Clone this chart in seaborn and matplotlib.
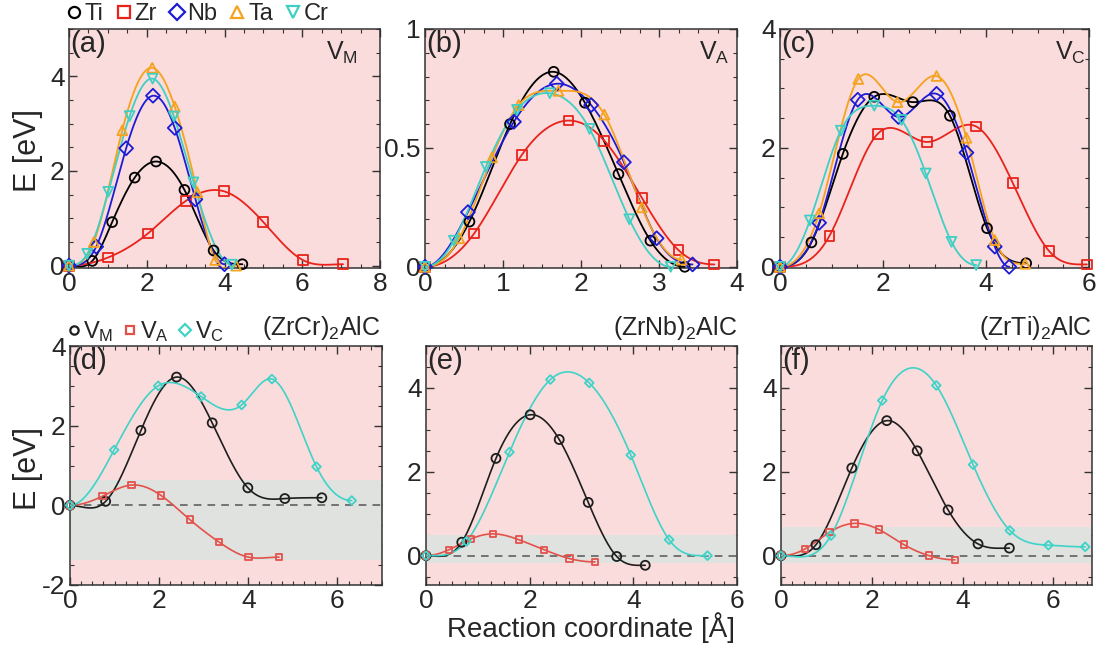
import numpy as np
import seaborn as sns
import matplotlib
matplotlib.use("Agg")
from matplotlib import pyplot as plt
from matplotlib.lines import Line2D
from matplotlib.ticker import MultipleLocator

# ---- top row: (x, E) points of each metal, one dict per vacancy type ----
vm_pts = {
    "Ti": ([0, 0.6, 1.11, 1.69, 2.24, 2.97, 3.72, 4.46], [0, 0.1, 0.92, 1.86, 2.2, 1.6, 0.32, 0.03]),
    "Zr": ([0, 1.0, 2.03, 3.01, 3.99, 5.0, 6.01, 7.05], [0, 0.17, 0.68, 1.37, 1.57, 0.92, 0.12, 0.03]),
    "Nb": ([0, 0.7, 1.47, 2.16, 2.72, 3.25, 4.0], [0, 0.4, 2.48, 3.59, 2.91, 1.4, 0.03]),
    "Ta": ([0, 0.64, 1.37, 2.14, 2.72, 3.3, 3.76, 4.3], [0, 0.5, 2.86, 4.18, 3.36, 1.55, 0.12, 0.0]),
    "Cr": ([0, 0.47, 1.01, 1.56, 2.15, 2.7, 3.2, 4.19], [0, 0.25, 1.56, 3.16, 3.95, 3.15, 1.76, 0.02]),
}
va_pts = {
    "Ti": ([0, 0.57, 1.09, 1.65, 2.05, 2.48, 2.89, 3.33], [0, 0.19, 0.6, 0.82, 0.69, 0.39, 0.11, 0.0]),
    "Zr": ([0, 0.63, 1.24, 1.84, 2.3, 2.78, 3.25, 3.71], [0, 0.14, 0.47, 0.615, 0.53, 0.29, 0.07, 0.01]),
    "Nb": ([0, 0.55, 1.14, 1.69, 2.13, 2.55, 2.97, 3.43], [0, 0.23, 0.61, 0.77, 0.68, 0.44, 0.12, 0.01]),
    "Ta": ([0, 0.44, 0.86, 1.2, 1.71, 2.3, 2.78, 3.29], [0, 0.12, 0.46, 0.68, 0.74, 0.64, 0.25, 0.03]),
    "Cr": ([0, 0.37, 0.78, 1.18, 1.6, 2.11, 2.62, 3.15], [0, 0.11, 0.42, 0.66, 0.73, 0.58, 0.2, 0.0]),
}
vc_pts = {
    "Ti": ([0, 0.61, 1.22, 1.83, 2.58, 3.3, 4.02, 4.78], [0, 0.41, 1.9, 2.86, 2.77, 2.54, 0.65, 0.06]),
    "Zr": ([0, 0.96, 1.9, 2.85, 3.81, 4.52, 5.23, 5.96], [0, 0.52, 2.24, 2.1, 2.36, 1.41, 0.26, 0.04]),
    "Nb": ([0, 0.76, 1.51, 2.3, 3.04, 3.62, 4.17, 4.45], [0, 0.74, 2.81, 2.52, 2.91, 1.92, 0.34, 0.0]),
    "Ta": ([0, 0.76, 1.52, 2.28, 3.04, 3.62, 4.17, 4.76], [0, 0.9, 3.16, 2.77, 3.21, 2.17, 0.45, 0.05]),
    "Cr": ([0, 0.58, 1.18, 1.83, 2.36, 2.83, 3.33, 3.81], [0, 0.78, 2.29, 2.71, 2.47, 1.57, 0.42, 0.03]),
}

# ---- bottom row: the three vacancies in each solid solution ----
zrcr_pts = {
    "VM": ([0, 0.8, 1.59, 2.39, 3.19, 3.99, 4.82, 5.65], [0, 0.1, 1.88, 3.22, 2.07, 0.44, 0.17, 0.19]),
    "VA": ([0, 0.73, 1.38, 2.04, 2.69, 3.34, 4.0, 4.69], [0, 0.23, 0.51, 0.25, -0.36, -0.92, -1.3, -1.3]),
    "VC": ([0, 0.99, 1.98, 2.94, 3.85, 4.53, 5.53, 6.32], [0, 1.39, 3.0, 2.73, 2.52, 3.17, 0.97, 0.12]),
}
zrnb_pts = {
    "VM": ([0, 0.69, 1.35, 2.01, 2.57, 3.13, 3.68, 4.23], [0, 0.32, 2.32, 3.36, 2.77, 1.27, -0.02, -0.23]),
    "VA": ([0, 0.44, 0.87, 1.29, 1.79, 2.28, 2.77, 3.26], [0, 0.14, 0.4, 0.52, 0.38, 0.14, -0.07, -0.15]),
    "VC": ([0, 0.78, 1.61, 2.4, 3.15, 3.95, 4.69, 5.43], [0, 0.34, 2.47, 4.2, 4.12, 2.4, 0.38, 0.0]),
}
zrti_pts = {
    "VM": ([0, 0.77, 1.56, 2.33, 3.0, 3.68, 4.34, 5.03], [0, 0.26, 2.09, 3.22, 2.5, 1.09, 0.28, 0.18]),
    "VA": ([0, 0.53, 1.07, 1.62, 2.16, 2.71, 3.26, 3.83], [0, 0.16, 0.56, 0.77, 0.62, 0.26, 0.0, -0.1]),
    "VC": ([0, 1.1, 2.23, 3.42, 4.23, 5.04, 5.89, 6.7], [0, 0.48, 3.7, 4.06, 2.17, 0.6, 0.25, 0.21]),
}
# shaded energy windows in (d)-(f)
zrcr_band = (-1.37, 0.63)
zrnb_band = (-0.17, 0.5)
zrti_band = (-0.17, 0.69)

metal_style = {
    "Ti": ("black", "o"), "Zr": ("#e8231b", "s"), "Nb": ("#1c1cd6", "D"),
    "Ta": ("#f5a21e", "^"), "Cr": ("#3fcfc4", "v"),
}
vac_style = {
    "VM": ("#1e1e1e", "o", 42), "VA": ("#e4514b", "s", 22), "VC": ("#3fd3c8", "D", 20),
}
vac_label = {"VM": r"$\mathregular{V_M}$", "VA": r"$\mathregular{V_A}$", "VC": r"$\mathregular{V_C}$"}

BG = "#fadcdc"
BAND = "#dfe2de"


def clamped_spline(x, y, num=300):
    """Cubic spline with zero slope at both end points (the path minima);
    only used to draw the smooth line through the markers."""
    x = np.asarray(x, float)
    y = np.asarray(y, float)
    n = len(x)
    h = np.diff(x)
    d = np.diff(y) / h
    A = np.zeros((n, n))
    r = np.zeros(n)
    A[0, 0], A[0, 1] = 2 * h[0], h[0]
    r[0] = 6 * d[0]
    A[-1, -2], A[-1, -1] = h[-1], 2 * h[-1]
    r[-1] = -6 * d[-1]
    for i in range(1, n - 1):
        A[i, i - 1] = h[i - 1]
        A[i, i] = 2 * (h[i - 1] + h[i])
        A[i, i + 1] = h[i]
        r[i] = 6 * (d[i] - d[i - 1])
    M = np.linalg.solve(A, r)
    xs = np.linspace(x[0], x[-1], num)
    k = np.clip(np.searchsorted(x, xs) - 1, 0, n - 2)
    t0 = x[k + 1] - xs
    t1 = xs - x[k]
    hk = h[k]
    ys = (M[k] * t0 ** 3 + M[k + 1] * t1 ** 3) / (6 * hk) \
        + (y[k] / hk - M[k] * hk / 6) * t0 + (y[k + 1] / hk - M[k + 1] * hk / 6) * t1
    return xs, ys


def draw_series(ax, x, y, color, marker, size, lw=1.3):
    xs, ys = clamped_spline(x, y)
    sns.lineplot(x=xs, y=ys, ax=ax, color=color, lw=lw, sort=False, estimator=None,
                 legend=False, zorder=3)
    sns.scatterplot(x=x, y=y, ax=ax, marker=marker, s=size, facecolor="none",
                    edgecolor=color, linewidth=1.3, legend=False, zorder=4, clip_on=False)


def style_axes(ax, xlim, ylim, xmaj, xmin, ymaj, ymin):
    ax.set_facecolor(BG)
    ax.set_xlim(*xlim)
    ax.set_ylim(*ylim)
    ax.xaxis.set_major_locator(MultipleLocator(xmaj))
    ax.xaxis.set_minor_locator(MultipleLocator(xmin))
    ax.yaxis.set_major_locator(MultipleLocator(ymaj))
    ax.yaxis.set_minor_locator(MultipleLocator(ymin))
    ax.tick_params(which="both", direction="in", top=True, right=True, labelsize=19,
                   color="#333333", pad=3)
    ax.tick_params(which="major", length=6, width=1)
    ax.tick_params(which="minor", length=3, width=0.8)
    ax.set_xlabel("")
    ax.set_ylabel("")
    for sp in ax.spines.values():
        sp.set_color("#333333")
        sp.set_linewidth(1.1)


sns.set_style("ticks")
plt.rcParams["font.family"] = ["Liberation Sans", "DejaVu Sans"]
plt.rcParams["mathtext.fontset"] = "custom"
plt.rcParams["mathtext.rm"] = "Liberation Sans"
plt.rcParams["axes.unicode_minus"] = False

W, H = 1099, 651
fig = plt.figure(figsize=(W / 100, H / 100), dpi=100)


def add_ax(left, right, top, bottom):
    return fig.add_axes([left / W, 1 - bottom / H, (right - left) / W, (bottom - top) / H])


ax_a = add_ax(69, 380, 29, 268)
ax_b = add_ax(425, 737, 29, 268)
ax_c = add_ax(780, 1089, 29, 268)
ax_d = add_ax(70, 382, 346, 585)
ax_e = add_ax(426, 737, 346, 585)
ax_f = add_ax(781, 1092, 346, 585)

# top row
for ax, pts in [(ax_a, vm_pts), (ax_b, va_pts), (ax_c, vc_pts)]:
    for name, (x, y) in pts.items():
        c, m = metal_style[name]
        draw_series(ax, x, y, c, m, 50)

style_axes(ax_a, (0, 8), (-0.05, 5), 2, 0.5, 2, 0.5)
style_axes(ax_b, (0, 4), (-0.005, 1), 1, 0.25, 0.5, 0.1)
style_axes(ax_c, (0, 6), (-0.02, 4), 2, 0.5, 2, 0.5)
ax_b.set_yticks([0, 0.5, 1])
ax_b.set_yticklabels(["0", "0.5", "1"])

# bottom row
for ax, pts, band in [(ax_d, zrcr_pts, zrcr_band), (ax_e, zrnb_pts, zrnb_band),
                      (ax_f, zrti_pts, zrti_band)]:
    ax.axhspan(band[0], band[1], color=BAND, lw=0, zorder=1)
    ax.axhline(0, color="#555555", lw=1.1, ls=(0, (5, 4)), zorder=2)
    for name, (x, y) in pts.items():
        c, m, s = vac_style[name]
        draw_series(ax, x, y, c, m, s, lw=1.2)

style_axes(ax_d, (0, 7), (-2, 4), 2, 0.25, 2, 0.5)
style_axes(ax_e, (0, 6), (-0.7, 5), 2, 0.25, 2, 0.5)
style_axes(ax_f, (0, 6.85), (-0.7, 5), 2, 0.25, 2, 0.5)

# panel tags and vacancy labels
for ax, tag in zip([ax_a, ax_b, ax_c, ax_d, ax_e, ax_f], "abcdef"):
    ax.text(0.005, 0.995, f"({tag})", transform=ax.transAxes, ha="left", va="top",
            fontsize=21, zorder=6)
ax_a.text(0.93, 0.9, r"$\mathregular{V_M}$", transform=ax_a.transAxes, ha="right", va="center", fontsize=18)
ax_b.text(0.975, 0.9, r"$\mathregular{V_A}$", transform=ax_b.transAxes, ha="right", va="center", fontsize=18)
ax_c.text(0.99, 0.9, r"$\mathregular{V_C}$", transform=ax_c.transAxes, ha="right", va="center", fontsize=18)

# compounds above the bottom panels
ax_d.text(0.995, 1.015, r"(ZrCr)$\mathregular{_2}$AlC", transform=ax_d.transAxes, ha="right", va="bottom", fontsize=18)
ax_e.text(1.0, 1.015, r"(ZrNb)$\mathregular{_2}$AlC", transform=ax_e.transAxes, ha="right", va="bottom", fontsize=18)
ax_f.text(1.0, 1.015, r"(ZrTi)$\mathregular{_2}$AlC", transform=ax_f.transAxes, ha="right", va="bottom", fontsize=18)

# legends
metal_handles = [Line2D([], [], ls="none", marker=metal_style[k][1], ms=8, mfc="none",
                        mec=metal_style[k][0], mew=1.6) for k in metal_style]
ax_a.legend(metal_handles, list(metal_style), ncol=5, loc="center left",
            bbox_to_anchor=(-0.01, 1.062), frameon=False, fontsize=17, handlelength=0.7,
            handletextpad=0.1, columnspacing=0.5, borderpad=0, borderaxespad=0)
vac_handles = [Line2D([], [], ls="none", marker=vac_style[k][1], ms=6, mfc="none",
                      mec=vac_style[k][0], mew=1.6) for k in vac_style]
ax_d.legend(vac_handles, [vac_label[k] for k in vac_style], ncol=3, loc="center left",
            bbox_to_anchor=(-0.01, 1.06), frameon=False, fontsize=17, handlelength=0.6,
            handletextpad=0.1, columnspacing=0.4, borderpad=0, borderaxespad=0)

fig.text(28 / W, 1 - 150 / H, "E [eV]", rotation=90, ha="center", va="center", fontsize=22)
fig.text(28 / W, 1 - 468 / H, "E [eV]", rotation=90, ha="center", va="center", fontsize=22)
fig.text(591 / W, 1 - 628 / H, "Reaction coordinate [Å]", ha="center", va="center", fontsize=20)

fig.savefig("out.png", dpi=100)
